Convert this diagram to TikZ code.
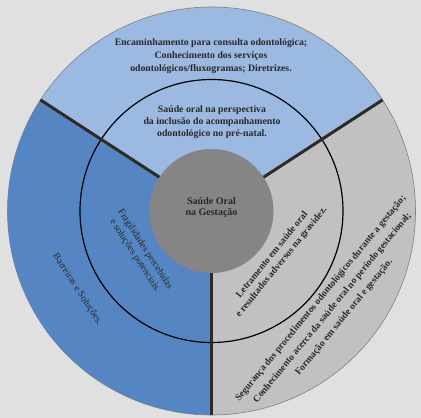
\documentclass[tikz,border=0pt]{standalone}
\usepackage{fontspec}
\setmainfont{Liberation Serif}
\definecolor{bgc}{RGB}{224,224,224}
\definecolor{topblue}{RGB}{156,185,225}
\definecolor{leftblue}{RGB}{85,133,195}
\definecolor{rightgray}{RGB}{193,193,195}
\definecolor{centergray}{RGB}{133,133,133}
\definecolor{divline}{RGB}{46,42,40}
\definecolor{txt}{RGB}{40,40,40}
\tikzset{
  lbl/.style={text=txt, align=center, inner sep=0pt, font=\fontsize{9.8}{13}\selectfont\bfseries},
  lblr/.style={text=txt, align=center, inner sep=0pt, font=\fontsize{9.8}{12}\selectfont},
  divider/.style={draw=divline, line width=3pt}
}
\begin{document}
\begin{tikzpicture}[x=1pt,y=1pt]
\useasboundingbox[fill=bgc] (-211.5,-207) rectangle (209.5,211);
\coordinate (C) at (0,0);
\def\R{204}
% sectors
\fill[topblue] (C) -- (33:\R) arc[start angle=33,end angle=147,radius=\R] -- cycle;
\fill[leftblue] (C) -- (147:\R) arc[start angle=147,end angle=270,radius=\R] -- cycle;
\fill[rightgray] (C) -- (270:\R) arc[start angle=270,end angle=393,radius=\R] -- cycle;
\draw[gray, line width=0.6pt] (C) circle (\R);
% inner ring
\draw[black, line width=1.2pt] (C) circle (131.5);
% dividers
\coordinate (e1) at (147:\R);
\coordinate (e2) at (33:\R);
\coordinate (e3) at (270:\R);
\draw[divider] (C) -- (e1);
\draw[divider] (C) -- (e2);
\draw[divider] (C) -- (e3);
% center
\fill[centergray] (C) circle (62);
\node[lbl, font=\fontsize{10}{11}\selectfont\bfseries] (center) at (0,3.5) {Saúde Oral\\na Gestação};
% texts
\node[lbl] (topout) at (-0.5,155) {Encaminhamento para consulta odontológica;\\Conhecimento dos serviços\\odontológicos/fluxogramas; Diretrizes.};
\node[lbl, font=\fontsize{9.8}{12}\selectfont\bfseries] (topin) at (0.5,89) {Saúde oral na perspectiva\\da inclusão do acompanhamento\\odontológico no pré-natal.};
\node[lblr, rotate=-57] (frag) at (-71.5,-41.5) {Fragilidades percebidas\\e soluções potenciais.};
\node[lblr, rotate=-57] (barr) at (-134,-78.5) {Barreiras e Soluções.};
\node[lbl, font=\fontsize{9.6}{12}\selectfont\bfseries, rotate=51] (letr) at (65.5,-47.5) {Letramento em saúde oral\\e resultados adversos na gravidez.};
\node[lbl, font=\fontsize{9.6}{15}\selectfont\bfseries, rotate=50.6] (rout) at (121,-97) {Segurança dos procedimentos odontológicos durante a gestação;\\Conhecimento acerca da saúde oral no período gestacional;\\Formação em saúde oral e gestação.};
\end{tikzpicture}
\end{document}
